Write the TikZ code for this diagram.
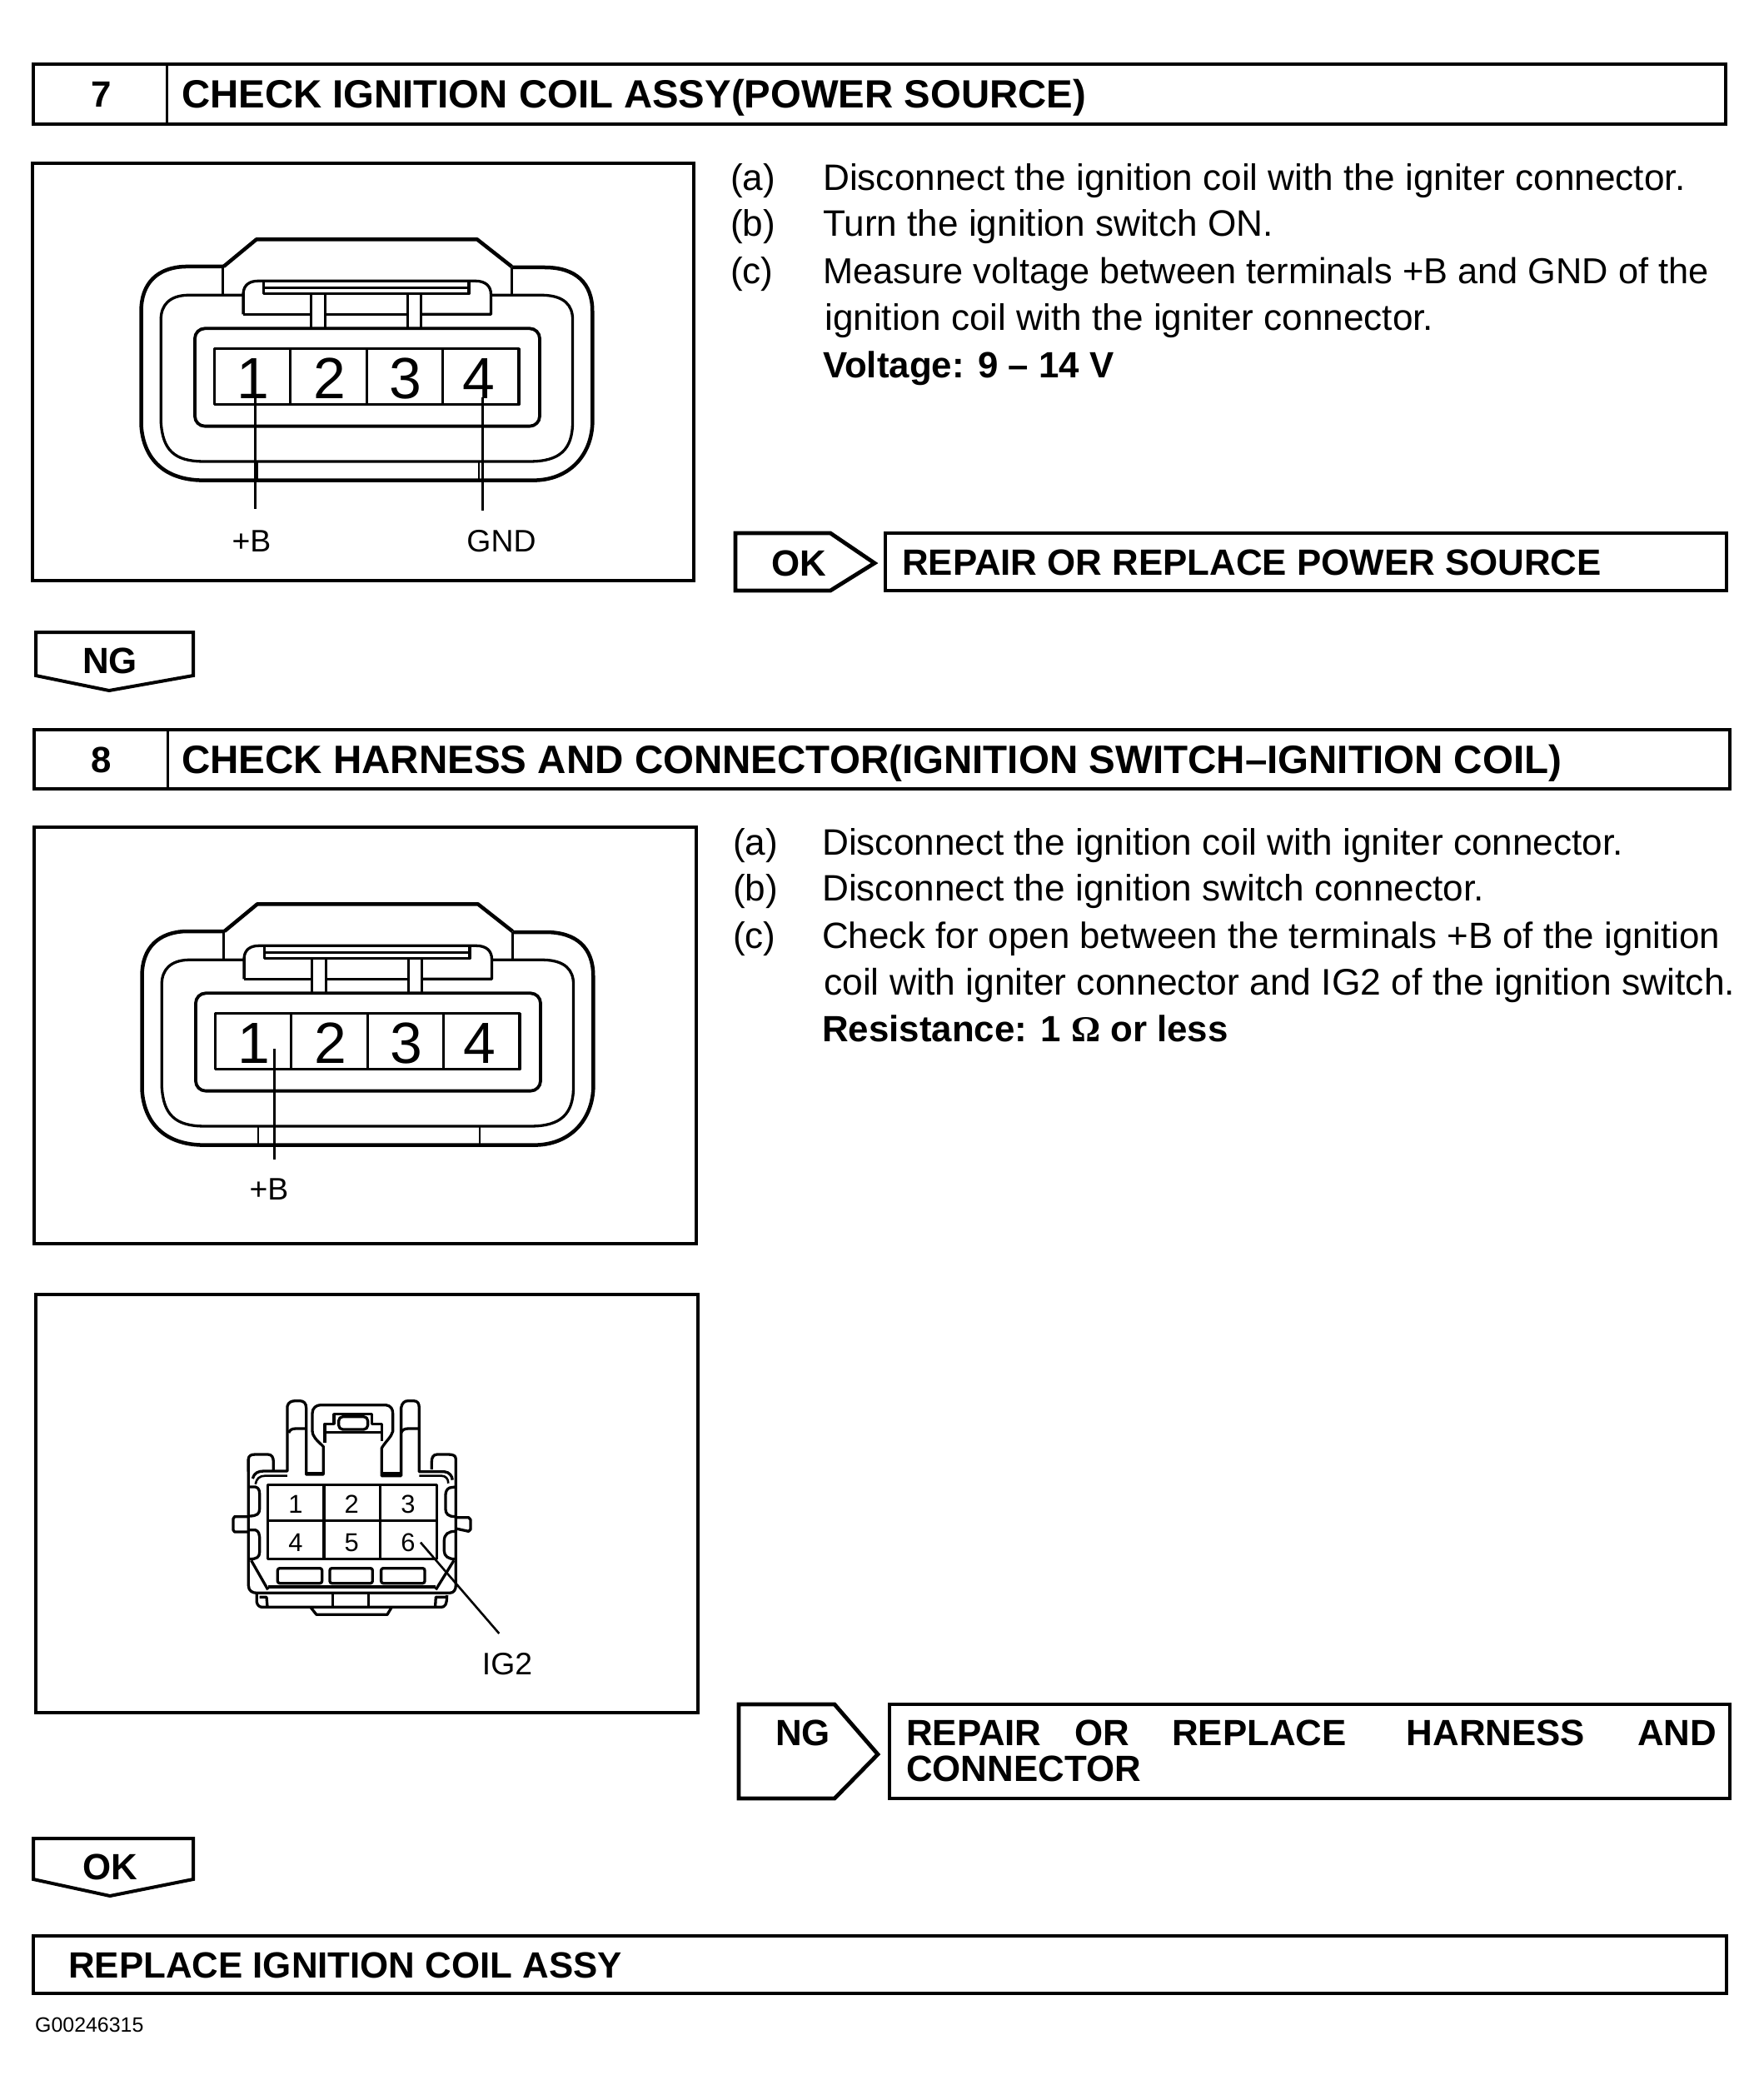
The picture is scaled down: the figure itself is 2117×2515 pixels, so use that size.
\documentclass[tikz,border=0pt]{standalone}
\usepackage{fontspec}
\setmainfont{Liberation Sans}
\newfontfamily\symfont{Liberation Serif}
\newcommand{\fs}[1]{\fontsize{#1}{#1}\selectfont}
\tikzset{
  frame/.style={draw=black,line width=4.8bp,fill=white,line join=miter},
  thin divider/.style={draw=black,line width=3bp},
  heavy/.style={draw=black,line width=4.5bp,line join=round},
  mid/.style={draw=black,line width=3.3bp,line join=round},
  fine/.style={draw=black,line width=2.6bp},
  title/.style={anchor=base west,inner sep=0pt,font=\fs{47.5}\bfseries},
  sub title/.style={anchor=base west,inner sep=0pt,font=\fs{44}\bfseries},
  tag/.style={anchor=base,inner sep=0pt,font=\fs{44}\bfseries},
  body/.style={anchor=base west,inner sep=0pt,font=\fs{44.3}},
  bodyb/.style={anchor=base west,inner sep=0pt,font=\fs{44}\bfseries},
  pin/.style={anchor=base,inner sep=0pt,font=\fs{70}},
  smallpin/.style={anchor=base,inner sep=0pt,font=\fs{31}},
  callout/.style={anchor=base,inner sep=0pt,font=\fs{37.5}},
}
% big four-pin connector, drawn in zoom units of the reference
\newcommand{\coilconn}[1]{%
  \draw[heavy] (350,180) -- (235,180) .. controls (150,182) and (100,240) .. (100,340)
     -- (100,750) .. controls (105,860) and (160,950) .. (290,950) -- (1290,950)
     .. controls (1400,950) and (1465,860) .. (1470,750) -- (1470,340)
     .. controls (1470,240) and (1420,183) .. (1325,183) -- (1225,183);
  \draw[heavy] (350,180) -- (450,82) -- (1120,82) -- (1225,180);
  \draw[mid] (347,180) -- (347,278) (1225,183) -- (1225,278);
  \draw[mid] (408,283) -- (240,283) .. controls (185,285) and (160,320) .. (160,370)
     -- (160,740) .. controls (165,840) and (200,882) .. (290,882) -- (1280,882)
     .. controls (1370,882) and (1410,840) .. (1410,740) -- (1410,370)
     .. controls (1410,320) and (1385,285) .. (1320,283) -- (1165,283);
  \draw[mid] (410,352) -- (410,275) .. controls (412,245) and (430,232) .. (455,232)
     -- (1115,232) .. controls (1145,232) and (1162,250) .. (1162,280) -- (1162,352) -- (950,352);
  \draw[mid] (410,352) -- (615,352) (658,352) -- (910,352);
  \draw[mid] (472,235) -- (472,278) -- (1095,278) -- (1095,235);
  \draw[fine] (472,256) -- (1095,256);
  \draw[mid] (615,280) -- (615,403) (658,280) -- (658,403) (910,280) -- (910,403) (950,280) -- (950,403);
  \draw[mid,line width=3.8bp,rounded corners=12bp] (263,403) rectangle (1310,755);
  \draw[mid] (323,476) rectangle (1247,677);
  \draw[mid] (553,476) -- (553,677) (785,476) -- (785,677) (1015,476) -- (1015,677);
  \draw[fine] (453,884) -- (453,948) (1125,884) -- (1125,948);
  \node[pin] (#1n1) at (440,655) {1};
  \node[pin] (#1n2) at (672,655) {2};
  \node[pin] (#1n3) at (903,655) {3};
  \node[pin] (#1n4) at (1125,655) {4};
}
\begin{document}
\begin{tikzpicture}[x=1bp,y=-1bp]
\useasboundingbox[fill=white] (0,0) rectangle (2117,2515);

% ===== step 7 =====
\draw[frame] (40,77) rectangle (2072,149);
\draw[thin divider] (200,77) -- (200,149);
\node[tag] (s7n) at (122,128) {7};
\node[title] (s7t) at (218,129) {CHECK IGNITION COIL ASSY(POWER SOURCE)};

\draw[frame] (39,196) rectangle (833,697);
\begin{scope}[shift={(130,260)},x=0.3954bp,y=-0.3333bp]
  \coilconn{a}
  \coordinate (a1) at (447,655);
  \coordinate (a1e) at (447,1052);
  \coordinate (a4) at (1137,650);
  \coordinate (a4e) at (1137,1060);
  \draw[fine] (a1) -- (a1e);
  \draw[fine] (a4) -- (a4e);
\end{scope}
\node[callout] (l7b) at (302,662) {+B};
\node[callout] (l7g) at (602,662) {GND};

\node[body] (t7a0) at (877,228) {(a)};
\node[body] (t7a) at (988,228) {Disconnect the ignition coil with the igniter connector.};
\node[body] (t7b0) at (877,283) {(b)};
\node[body] (t7b) at (988,283) {Turn the ignition switch ON.};
\node[body] (t7c0) at (877,340) {(c)};
\node[body,font=\fs{43.5}] (t7c) at (988,340) {Measure voltage between terminals +B and GND of the};
\node[body] (t7d) at (990,396) {ignition coil with the igniter connector.};
\node[bodyb] (t7e) at (988,453) {Voltage: 9 – 14 V};

\draw[frame] (883,640) -- (997,640) -- (1050,676) -- (997,709) -- (883,709) -- cycle;
\node[tag] (ok7) at (959,691) {OK};
\draw[frame] (1063,640) rectangle (2073,709);
\node[sub title] (r7) at (1083,690) {REPAIR OR REPLACE POWER SOURCE};

\draw[frame,line width=4bp] (43,759) -- (232,759) -- (232,811) -- (131,829) -- (43,811) -- cycle;
\node[tag] (ng7) at (132,808) {NG};

% ===== step 8 =====
\draw[frame] (41,876) rectangle (2077,947);
\draw[thin divider] (201,876) -- (201,947);
\node[tag] (s8n) at (122,927) {8};
\node[title,font=\fs{47.7}\bfseries] (s8t) at (218,928) {CHECK HARNESS AND CONNECTOR(IGNITION SWITCH–IGNITION COIL)};

\draw[frame] (41,993) rectangle (836,1493);
\begin{scope}[shift={(131,1058)},x=0.3954bp,y=-0.3333bp]
  \coilconn{b}
  \coordinate (b1) at (502,604);
  \coordinate (b1e) at (502,1001);
  \draw[fine] (b1) -- (b1e);
\end{scope}
\node[callout] (l8b) at (323,1440) {+B};

\draw[frame] (43,1554) rectangle (838,2056);
\begin{scope}[shift={(240,1660)},x=0.3333bp,y=-0.3333bp]
  \draw[mid] (175,320) -- (175,275) .. controls (175,262) and (185,258) .. (200,258) -- (245,258)
     .. controls (260,258) and (265,270) .. (265,285) -- (265,315);
  \draw[mid] (175,275) -- (175,730) .. controls (175,750) and (190,757) .. (205,757) -- (900,757)
     .. controls (915,757) and (922,745) .. (922,730) -- (922,275)
     .. controls (922,262) and (912,258) .. (895,258) -- (855,258)
     .. controls (840,258) and (835,270) .. (835,285) -- (835,312);
  \draw[mid] (190,345) .. controls (195,325) and (210,318) .. (230,318) -- (315,318) -- (315,85)
     .. controls (318,70) and (330,65) .. (345,65) -- (360,65)
     .. controls (375,65) and (383,75) .. (383,90) -- (383,330) -- (445,330) -- (445,230)
     .. controls (420,205) and (405,195) .. (405,170) -- (405,110)
     .. controls (405,90) and (420,80) .. (435,80) -- (670,80)
     .. controls (688,82) and (695,95) .. (695,110) -- (695,175)
     .. controls (690,195) and (670,210) .. (655,235) -- (655,335) -- (725,335) -- (725,90)
     .. controls (728,72) and (738,65) .. (750,65) -- (770,65)
     .. controls (785,65) and (790,75) .. (790,90) -- (790,320) -- (880,320)
     .. controls (900,322) and (908,335) .. (910,350);
  \draw[fine] (200,365) .. controls (204,345) and (215,335) .. (235,335) -- (315,335);
  \draw[fine] (895,362) .. controls (895,345) and (885,335) .. (870,335) -- (790,335);
  \draw[mid] (320,180) .. controls (323,170) and (332,165) .. (345,165) -- (383,165);
  \draw[mid] (725,180) .. controls (728,170) and (738,165) .. (750,165) -- (790,165);
  \draw[mid] (450,215) -- (450,148) -- (483,148) -- (483,113) -- (620,113) -- (620,148) -- (655,148) -- (655,210);
  \draw[mid] (450,178) -- (655,178);
  \draw[mid,rounded corners=5bp] (500,122) rectangle (605,168);
  \draw[mid] (388,325) -- (442,325) (650,325) -- (722,325);
  \draw[mid] (245,368) rectangle (853,635);
  \draw[mid] (245,497) -- (853,497) (447,368) -- (447,635) (650,368) -- (650,635);
  \node[smallpin] (c1) at (345,469) {1};
  \node[smallpin] (c2) at (547,469) {2};
  \node[smallpin] (c3) at (750,469) {3};
  \node[smallpin] (c4) at (345,607) {4};
  \node[smallpin] (c5) at (547,607) {5};
  \node[smallpin] (c6) at (750,607) {6};
  \draw[mid] (178,375) -- (200,375) .. controls (212,378) and (215,388) .. (215,400) -- (215,455)
     .. controls (215,472) and (205,480) .. (178,480);
  \draw[mid] (178,530) -- (200,530) .. controls (212,535) and (215,545) .. (215,555) -- (215,610)
     .. controls (215,628) and (205,635) .. (178,635);
  \draw[mid] (920,375) -- (900,378) .. controls (890,382) and (885,392) .. (885,405) -- (885,455)
     .. controls (885,472) and (895,482) .. (920,482);
  \draw[mid] (920,535) .. controls (895,535) and (880,545) .. (880,570) -- (880,605)
     .. controls (880,625) and (895,635) .. (920,635);
  \draw[mid] (175,482) -- (125,482) -- (120,490) -- (120,530) -- (125,537) -- (175,537);
  \draw[mid] (922,485) -- (968,485) -- (975,493) -- (975,528) -- (968,535) -- (922,525);
  \draw[mid] (185,640) -- (245,745) (915,640) -- (850,745);
  \draw[mid,rounded corners=2.5bp] (280,668) rectangle (440,722);
  \draw[mid,rounded corners=2.5bp] (468,668) rectangle (622,722);
  \draw[mid,rounded corners=2.5bp] (653,668) rectangle (810,722);
  \draw[mid] (245,735) -- (850,735);
  \draw[mid] (205,762) -- (205,790) .. controls (207,802) and (215,808) .. (225,808) -- (870,808)
     .. controls (882,808) and (890,800) .. (890,765);
  \draw[mid] (215,772) -- (240,772) -- (243,805);
  \draw[mid] (885,772) -- (850,772) -- (848,805);
  \draw[mid] (478,760) -- (478,805) (608,760) -- (608,805);
  \draw[mid] (400,810) -- (420,835) -- (675,835) -- (690,810);
  \coordinate (c6a) at (795,575);
  \coordinate (c6e) at (1078,903);
  \draw[fine] (c6a) -- (c6e);
\end{scope}
\node[callout] (l8ig) at (609,2010) {IG2};

\node[body] (t8a0) at (880,1026) {(a)};
\node[body] (t8a) at (987,1026) {Disconnect the ignition coil with igniter connector.};
\node[body] (t8b0) at (880,1081) {(b)};
\node[body] (t8b) at (987,1081) {Disconnect the ignition switch connector.};
\node[body] (t8c0) at (880,1138) {(c)};
\node[body,font=\fs{44}] (t8c) at (987,1138) {Check for open between the terminals +B of the ignition};
\node[body,font=\fs{44.6}] (t8d) at (989,1194) {coil with igniter connector and IG2 of the ignition switch.};
\node[bodyb] (t8e) at (987,1250) {Resistance: 1 {\symfont Ω} or less};

\draw[frame] (887,2046) -- (1002,2046) -- (1054,2106) -- (1002,2159) -- (887,2159) -- cycle;
\node[tag] (ng8) at (964,2095) {NG};
\draw[frame] (1068,2046) rectangle (2077,2159);
\node[sub title] (r8a) at (1088,2095)
   {REPAIR\hspace{40bp}OR\hspace{51bp}REPLACE\hspace{72bp}HARNESS\hspace{63bp}AND};
\node[sub title] (r8b) at (1088,2138) {CONNECTOR};

\draw[frame,line width=4bp] (40,2207) -- (232,2207) -- (232,2256) -- (132,2276) -- (40,2256) -- cycle;
\node[tag] (ok8) at (132,2256) {OK};

\draw[frame] (40,2324) rectangle (2073,2393);
\node[sub title] (fin) at (82,2374) {REPLACE IGNITION COIL ASSY};
\node[anchor=base west,inner sep=0pt,font=\fs{25}] (code) at (42,2439) {G00246315};
\end{tikzpicture}
\end{document}
